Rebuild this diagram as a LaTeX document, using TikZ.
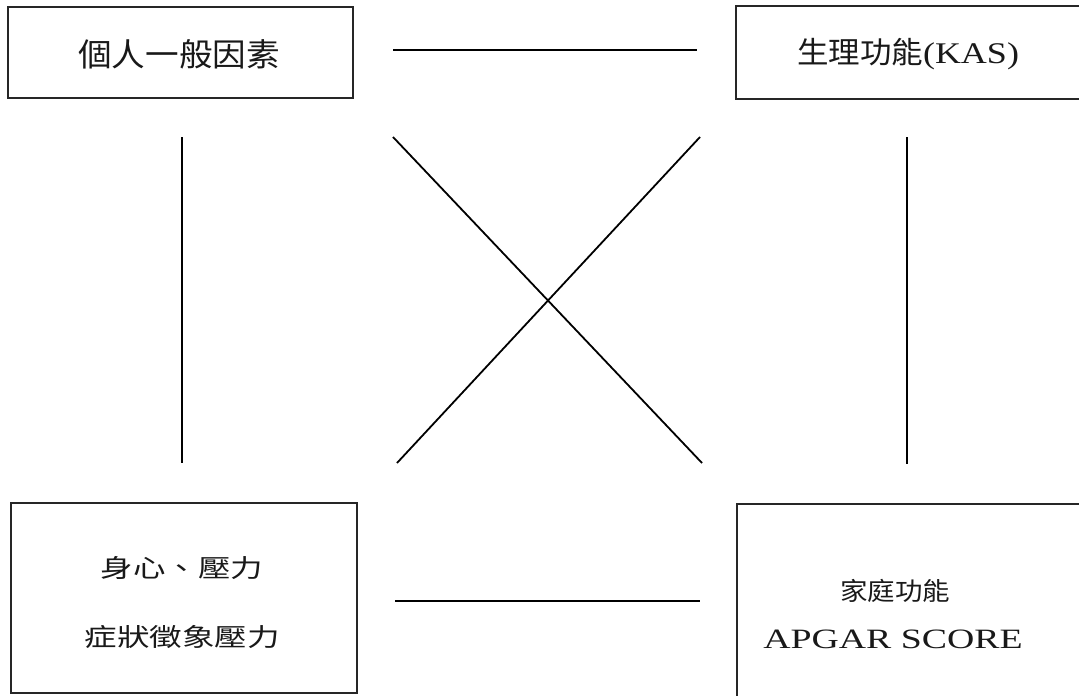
\documentclass[tikz,border=0pt]{standalone}
\usepackage{fontspec}
\setmainfont{Liberation Serif}
\newfontfamily\cjkA[FakeStretch=1.05]{Noto Sans CJK TC}
\newfontfamily\cjkB[FakeStretch=1.3]{Noto Sans CJK TC}
\newfontfamily\cjkC[FakeStretch=1.1]{Noto Sans CJK TC}
\newfontfamily\latA[FakeStretch=1.2]{Liberation Serif}
\newfontfamily\latB[FakeStretch=1.35]{Liberation Serif}
\begin{document}
\begin{tikzpicture}[x=1pt,y=-1pt,
  boxshape/.style={draw=black!85,line width=1.5pt,rectangle,inner sep=0pt},
  link/.style={draw=black,line width=1.8pt},
  lbl/.style={inner sep=0pt,anchor=center,text=black!90}]
\useasboundingbox (0,0) rectangle (1079,696);
\clip (0,0) rectangle (1079,696);
% boxes
\node[boxshape,minimum width=345pt,minimum height=91pt] (b1) at (180.5,52.5) {};
\node[boxshape,minimum width=349pt,minimum height=93pt] (b2) at (910.5,52.5) {};
\node[boxshape,minimum width=346pt,minimum height=190pt] (b3) at (184,598) {};
\node[boxshape,minimum width=348pt,minimum height=200pt] (b4) at (911,604) {};
% texts
\node[lbl] (t1) at (179,54) {\fontsize{32}{36}\cjkA 個人一般因素};
\node[lbl] (t2) at (908,54) {\fontsize{30}{36}\cjkA 生理功能\fontsize{30}{36}\latA(KAS)};
\node[lbl] (t3) at (182,568) {\fontsize{25}{30}\cjkB 身心、壓力};
\node[lbl] (t4) at (182,637) {\fontsize{25}{30}\cjkB 症狀徵象壓力};
\node[lbl] (t5) at (895,591) {\fontsize{25}{30}\cjkC 家庭功能};
\node[lbl] (t6) at (893,639) {\fontsize{28}{32}\latB APGAR SCORE};
% line ends
\coordinate (h1a) at (393,50);  \coordinate (h1b) at (697,50);
\coordinate (h2a) at (395,601); \coordinate (h2b) at (700,601);
\coordinate (v1a) at (182,137); \coordinate (v1b) at (182,463);
\coordinate (v2a) at (907,137); \coordinate (v2b) at (907,464);
\coordinate (d1a) at (393,137); \coordinate (d1b) at (702,463);
\coordinate (d2a) at (700,137); \coordinate (d2b) at (397,463);
% connectors
\draw[link] (h1a) -- (h1b);
\draw[link] (h2a) -- (h2b);
\draw[link] (v1a) -- (v1b);
\draw[link] (v2a) -- (v2b);
\draw[link] (d1a) -- (d1b);
\draw[link] (d2a) -- (d2b);
\end{tikzpicture}
\end{document}
